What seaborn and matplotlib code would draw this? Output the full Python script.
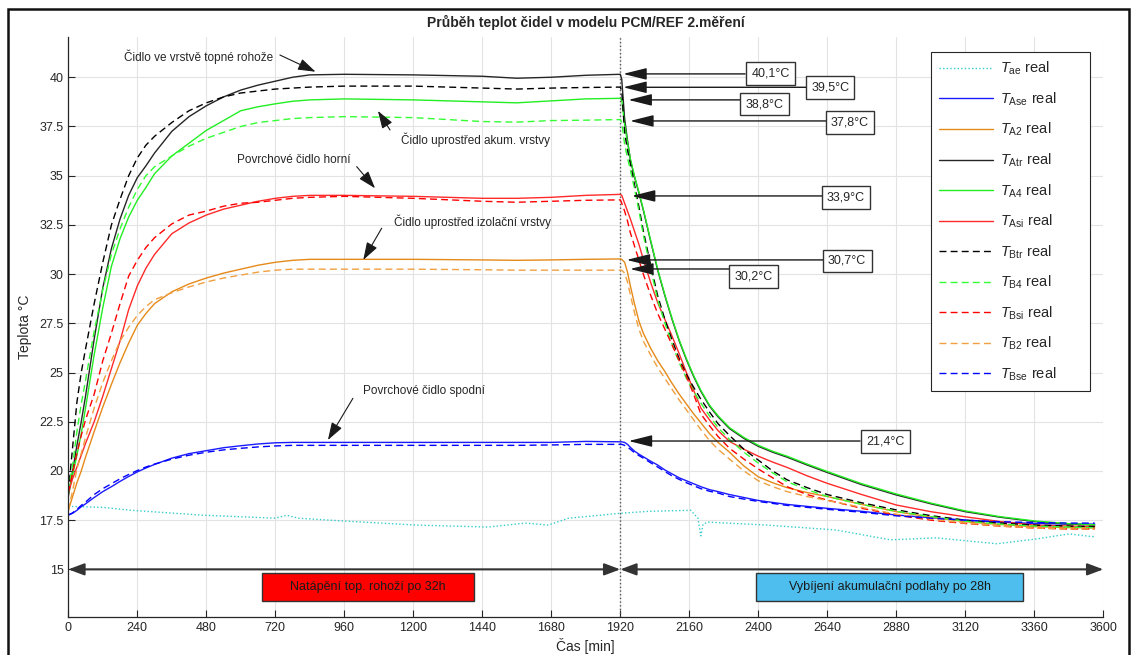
import numpy as np
import pandas as pd
import seaborn as sns
import matplotlib
matplotlib.use("Agg")
import matplotlib.pyplot as plt
from matplotlib.patches import Rectangle

# time axis [min] shared by the floor sensors: heating part + cooling part
t_heat = [0, 15, 30, 45, 60, 90, 120, 150, 180, 210, 240, 270, 300, 360, 420, 480, 540, 600, 660,
          720, 780, 840, 960, 1200, 1440, 1560, 1680, 1800, 1920]
t_cool = [1925, 1935, 1945, 1955, 1970, 1985, 2000, 2025, 2050, 2075, 2100, 2125, 2150, 2175, 2200,
          2230, 2260, 2300, 2350, 2400, 2450, 2500, 2570, 2640, 2760, 2880, 3000, 3120, 3240, 3360,
          3480, 3570]
t = t_heat + t_cool

T_Ase = [17.76, 17.85, 18.0, 18.18, 18.33, 18.65, 18.95, 19.2, 19.47, 19.72, 19.95, 20.15, 20.33, 20.65, 20.88,
         21.03, 21.18, 21.28, 21.37, 21.43, 21.45, 21.45, 21.45, 21.45, 21.45, 21.45, 21.45, 21.5, 21.48] + \
        [21.48, 21.45, 21.35, 21.2, 21.0, 20.85, 20.72, 20.5, 20.3, 20.05, 19.85, 19.65, 19.5, 19.35, 19.2,
         19.05, 18.95, 18.8, 18.65, 18.5, 18.4, 18.3, 18.2, 18.1, 17.95, 17.76, 17.62, 17.5, 17.4, 17.33,
         17.3, 17.3]
T_A2 = [18.0, 18.7, 19.4, 20.0, 20.7, 22.0, 23.25, 24.4, 25.5, 26.5, 27.4, 28.0, 28.5, 29.1, 29.5,
        29.8, 30.05, 30.25, 30.45, 30.6, 30.7, 30.75, 30.75, 30.75, 30.72, 30.7, 30.72, 30.75, 30.77] + \
       [30.75, 30.6, 30.1, 29.4, 28.45, 27.6, 27.0, 26.25, 25.6, 25.05, 24.45, 23.9, 23.4, 22.9, 22.45,
        21.9, 21.45, 20.95, 20.25, 19.7, 19.4, 19.15, 18.9, 18.7, 18.3, 17.93, 17.65, 17.42, 17.28, 17.17,
        17.12, 17.1]
T_Atr = [18.7, 20.0, 21.3, 22.5, 23.8, 26.7, 29.3, 31.3, 32.8, 34.0, 34.9, 35.5, 36.15, 37.25, 38.0,
         38.55, 39.0, 39.35, 39.6, 39.8, 40.0, 40.12, 40.15, 40.12, 40.05, 39.95, 40.0, 40.1, 40.15] + \
        [39.9, 37.9, 36.8, 35.8, 34.9, 34.1, 33.25, 31.7, 30.2, 28.9, 27.7, 26.6, 25.65, 24.8, 24.05,
         23.3, 22.75, 22.15, 21.65, 21.25, 20.95, 20.7, 20.3, 19.92, 19.3, 18.78, 18.33, 17.93, 17.65, 17.43,
         17.3, 17.25]
T_A4 = [18.8, 19.8, 20.8, 21.9, 23.2, 25.9, 28.3, 30.4, 31.8, 32.9, 33.75, 34.4, 35.1, 36.0, 36.65,
        37.3, 37.8, 38.3, 38.5, 38.65, 38.78, 38.85, 38.9, 38.85, 38.75, 38.7, 38.8, 38.9, 38.93] + \
       [38.85, 37.6, 36.7, 35.85, 34.95, 34.15, 33.3, 31.75, 30.25, 28.95, 27.75, 26.65, 25.7, 24.85, 24.1,
        23.35, 22.8, 22.2, 21.7, 21.3, 21.0, 20.75, 20.35, 19.97, 19.35, 18.83, 18.37, 17.97, 17.68, 17.46,
        17.32, 17.27]
T_Asi = [18.9, 19.6, 20.2, 20.8, 21.4, 22.5, 23.8, 25.2, 26.6, 28.2, 29.4, 30.3, 31.0, 32.05, 32.6,
         33.0, 33.3, 33.5, 33.7, 33.85, 33.95, 34.0, 34.0, 33.95, 33.85, 33.85, 33.9, 34.0, 34.05] + \
        [34.0, 33.6, 33.2, 32.8, 32.15, 31.5, 30.75, 29.6, 28.55, 27.7, 26.85, 25.95, 25.0, 24.1, 23.2,
         22.6, 22.05, 21.5, 21.1, 20.75, 20.45, 20.18, 19.75, 19.37, 18.8, 18.27, 17.93, 17.67, 17.43, 17.25,
         17.2, 17.17]
T_Btr = [18.9, 21.2, 23.5, 25.0, 26.2, 28.5, 30.6, 32.5, 33.8, 35.0, 35.9, 36.55, 37.0, 37.7, 38.3,
         38.7, 39.0, 39.2, 39.3, 39.4, 39.45, 39.5, 39.55, 39.55, 39.45, 39.4, 39.45, 39.48, 39.5] + \
        [39.3, 37.2, 36.3, 35.6, 34.5, 33.4, 32.2, 30.5, 28.9, 27.7, 26.65, 25.7, 24.9, 24.25, 23.65,
         23.0, 22.4, 21.8, 21.1, 20.55, 20.0, 19.55, 19.15, 18.8, 18.38, 18.02, 17.73, 17.5, 17.35, 17.25,
         17.2, 17.17]
T_B4 = [19.0, 20.3, 22.0, 23.4, 24.6, 27.1, 29.2, 31.0, 32.3, 33.4, 34.3, 35.0, 35.45, 36.0, 36.5,
        36.9, 37.2, 37.5, 37.7, 37.8, 37.9, 37.95, 38.0, 37.95, 37.75, 37.72, 37.8, 37.82, 37.85] + \
       [37.7, 36.6, 35.9, 35.3, 34.3, 33.2, 32.0, 30.3, 28.7, 27.5, 26.45, 25.5, 24.7, 24.05, 23.45,
        22.8, 22.2, 21.6, 20.95, 20.4, 19.9, 19.45, 19.05, 18.7, 18.3, 17.95, 17.68, 17.45, 17.3, 17.2,
        17.15, 17.12]
T_Bsi = [18.9, 19.9, 20.9, 21.8, 22.6, 23.9, 25.6, 27.0, 28.5, 29.9, 30.7, 31.35, 31.85, 32.55, 33.0,
         33.2, 33.45, 33.6, 33.65, 33.75, 33.85, 33.9, 33.95, 33.85, 33.7, 33.65, 33.7, 33.75, 33.77] + \
        [33.6, 33.2, 32.7, 32.1, 31.4, 30.7, 30.0, 28.95, 28.0, 27.2, 26.4, 25.6, 24.8, 23.9, 22.9,
         22.3, 21.75, 21.15, 20.6, 20.1, 19.65, 19.2, 18.8, 18.52, 18.1, 17.76, 17.5, 17.33, 17.2, 17.1,
         17.05, 17.05]
T_B2 = [18.0, 19.0, 20.1, 20.9, 21.7, 23.2, 24.5, 25.6, 26.6, 27.3, 27.9, 28.35, 28.7, 29.05, 29.35,
        29.6, 29.8, 29.95, 30.1, 30.2, 30.25, 30.25, 30.25, 30.25, 30.22, 30.2, 30.2, 30.2, 30.2] + \
       [30.2, 30.05, 29.6, 28.95, 28.0, 27.2, 26.6, 25.9, 25.25, 24.7, 24.15, 23.6, 23.1, 22.6, 22.1,
        21.55, 21.1, 20.6, 20.0, 19.5, 19.2, 18.95, 18.7, 18.5, 18.15, 17.8, 17.55, 17.35, 17.2, 17.1,
        17.05, 17.05]
T_Bse = [17.76, 17.87, 18.05, 18.25, 18.42, 18.8, 19.1, 19.35, 19.6, 19.82, 20.02, 20.2, 20.35, 20.6, 20.8,
         20.95, 21.07, 21.15, 21.22, 21.27, 21.3, 21.3, 21.3, 21.3, 21.3, 21.3, 21.32, 21.35, 21.35] + \
        [21.35, 21.3, 21.22, 21.1, 20.92, 20.78, 20.65, 20.42, 20.2, 19.97, 19.75, 19.57, 19.4, 19.25, 19.1,
         18.97, 18.88, 18.7, 18.57, 18.45, 18.35, 18.25, 18.15, 18.05, 17.9, 17.72, 17.6, 17.5, 17.42, 17.38,
         17.35, 17.35]

# outdoor air temperature has its own time points
t_ae = [0, 120, 220, 470, 720, 760, 800, 965, 1210, 1460, 1590, 1670, 1740, 1850, 1920, 2020, 2165, 2190, 2200,
        2208, 2225, 2430, 2670, 2860, 3020, 3230, 3370, 3480, 3570]
T_ae = [18.2, 18.15, 18.0, 17.75, 17.6, 17.75, 17.6, 17.45, 17.25, 17.15, 17.35, 17.25, 17.6, 17.75, 17.85, 17.95, 18.0, 17.6, 16.7,
        17.3, 17.4, 17.25, 17.0, 16.5, 16.6, 16.3, 16.55, 16.8, 16.65]

series = [
    ("ae", t_ae, T_ae, "#33CCCC", ":"),
    ("Ase", t, T_Ase, "#1A1AFF", "-"),
    ("A2", t, T_A2, "#E58A1A", "-"),
    ("Atr", t, T_Atr, "#262626", "-"),
    ("A4", t, T_A4, "#22EE22", "-"),
    ("Asi", t, T_Asi, "#FF2A2A", "-"),
    ("Btr", t, T_Btr, "#000000", "--"),
    ("B4", t, T_B4, "#33FF33", "--"),
    ("Bsi", t, T_Bsi, "#FF0000", "--"),
    ("B2", t, T_B2, "#F0A040", "--"),
    ("Bse", t, T_Bse, "#0000FF", "--"),
]

sns.set_theme(style="ticks")
plt.rcParams["font.family"] = ["Liberation Sans", "DejaVu Sans"]
plt.rcParams["mathtext.fontset"] = "custom"
plt.rcParams["mathtext.rm"] = "Liberation Sans"
plt.rcParams["mathtext.it"] = "Liberation Sans:italic"

W, H = 1136, 655
fig = plt.figure(figsize=(W / 100, H / 100), dpi=100)
ax = fig.add_axes([68.3 / W, 1 - 617 / H, 1035 / W, 580.3 / H])

for name, x, y, col, ls in series:
    df = pd.DataFrame({"t": x, "T": y})
    sns.lineplot(data=df, x="t", y="T", ax=ax, color=col, lw=1.0,
                 estimator=None, label=rf"$T_{{\rm {name}}}$ real")
    line = ax.lines[-1]
    if ls == "--":
        line.set_dashes([5, 3])
    elif ls == ":":
        line.set_dashes([1, 1.6])

ax.axvline(1920, color="#555555", ls=":", lw=1.0, zorder=1)

ax.set_xlim(0, 3600)
ax.set_ylim(12.58, 42.06)
ax.set_xticks(np.arange(0, 3601, 240))
yt = np.arange(15, 40.1, 2.5)
ax.set_yticks(yt)
ax.set_yticklabels([f"{v:g}" for v in yt])
ax.grid(True, color="#e3e3e3", lw=0.8)
ax.tick_params(direction="in", length=5, width=0.8, labelsize=9, colors="#262626")
for s in ["top", "right"]:
    ax.spines[s].set_visible(False)
for s in ["left", "bottom"]:
    ax.spines[s].set_color("#262626")
    ax.spines[s].set_linewidth(0.9)

ax.set_xlabel("Čas [min]", fontsize=10, color="#262626")
ax.set_ylabel("Teplota °C", fontsize=10, color="#262626")
ax.xaxis.set_label_coords(0.5, -0.036)
ax.yaxis.set_label_coords(-0.035, 0.5)
fig.text(585.8 / W, 1 - 22 / H, "Průběh teplot čidel v modelu PCM/REF 2.měření",
         ha="center", va="center", fontsize=10, fontweight="bold")

leg = ax.legend(loc="upper left", bbox_to_anchor=(0.8335, 0.3, 0.1536, 0.6736), mode="expand",
                borderaxespad=0, fontsize=10.5, labelspacing=0.9, handlelength=3.7,
                handletextpad=0.5, borderpad=0.55, fancybox=False, framealpha=1)
leg.get_frame().set_edgecolor("#262626")
leg.get_frame().set_linewidth(0.8)

# value labels at the end of heating
val_arrow = dict(arrowstyle="-|>,head_length=1.2,head_width=0.3", color="k", lw=1.0,
                 mutation_scale=12, shrinkA=0, shrinkB=0)
labels = [
    ("40,1°C", (2443, 40.2), (2354, 40.17), (1930, 40.17)),
    ("39,5°C", (2650, 39.49), (2566, 39.49), (1930, 39.49)),
    ("38,8°C", (2422, 38.64), (2340, 38.85), (1948, 38.85)),
    ("37,8°C", (2719, 37.71), (2638, 37.78), (1954, 37.78)),
    ("33,9°C", (2705, 33.90), (2624, 33.97), (1960, 33.97)),
    ("30,7°C", (2709, 30.67), (2626, 30.72), (1942, 30.72)),
    ("30,2°C", (2384, 29.87), (2302, 30.26), (1954, 30.26)),
    ("21,4°C", (2841, 21.50), (2754, 21.52), (1949, 21.52)),
]
for txt, pos, tail, tip in labels:
    ax.annotate("", xy=tip, xytext=tail, arrowprops=val_arrow)
    ax.text(*pos, txt, fontsize=9, ha="center", va="center", color="#262626", zorder=5,
            bbox=dict(boxstyle="square,pad=0.42", fc="white", ec="#333333", lw=1.0))

# sensor descriptions
txt_arrow = dict(arrowstyle="-|>,head_length=0.9,head_width=0.3", color="k", lw=0.8,
                 mutation_scale=12, shrinkA=0, shrinkB=0)
notes = [
    ("Čidlo ve vrstvě topné rohože", (453, 41.05), (736, 41.13), (860, 40.28)),
    ("Čidlo uprostřed akum. vrstvy", (1418, 36.81), (1119, 37.32), (1077, 38.29)),
    ("Povrchové čidlo horní", (783, 35.8), (1003, 35.46), (1067, 34.36)),
    ("Čidlo uprostřed izolační vrstvy", (1406, 32.66), (1090, 32.33), (1026, 30.72)),
    ("Povrchové čidlo spodní", (1238, 24.08), (990, 23.69), (903, 21.57)),
]
for txt, pos, tail, tip in notes:
    ax.annotate("", xy=tip, xytext=tail, arrowprops=txt_arrow)
    ax.text(*pos, txt, fontsize=8.5, ha="center", va="center", color="#262626")

# phase arrows and boxes
ph_arrow = dict(arrowstyle="<|-|>,head_length=0.8,head_width=0.3", color="#333333", lw=1.5,
                mutation_scale=12, shrinkA=0, shrinkB=0)
ax.annotate("", xy=(0, 15), xytext=(1920, 15), arrowprops=ph_arrow, annotation_clip=False)
ax.annotate("", xy=(1920, 15), xytext=(3600, 15), arrowprops=ph_arrow, annotation_clip=False)

phases = [
    ("Natápění top. rohoží po 32h", 674, 1411, "#FF0000"),
    ("Vybíjení akumulační podlahy po 28h", 2392, 3321, "#4DBEEE"),
]
for txt, x0, x1, fc in phases:
    ax.add_patch(Rectangle((x0, 13.4), x1 - x0, 1.41, fc=fc, ec="#333333", lw=1.0, zorder=4))
    ax.text((x0 + x1) / 2, 14.1, txt, ha="center", va="center", fontsize=9, color="#1a1a1a", zorder=5)

# outer frame of the figure
fig.add_artist(Rectangle((8 / W, -0.05), 1121 / W, 1.05 - 9 / H, transform=fig.transFigure,
                         fill=False, ec="#111111", lw=1.8))

fig.savefig("out.png", dpi=100)
